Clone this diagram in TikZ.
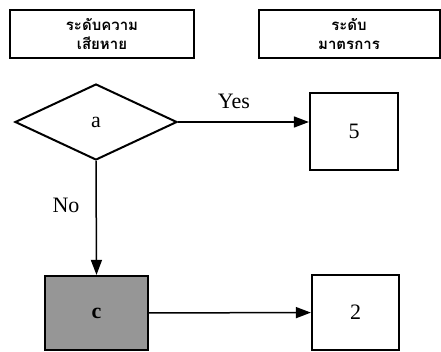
\documentclass[tikz,border=0pt]{standalone}
\usepackage{fontspec}
\setmainfont{Liberation Serif}
\newfontfamily\thaifont[Script=Thai]{Loma}
\usetikzlibrary{arrows.meta,shapes.geometric}
\definecolor{box_grey}{RGB}{150, 150, 150}
\tikzstyle{hd}=[rectangle,draw=black,line width=2pt,inner sep=0pt,
  minimum width=184pt,minimum height=48pt,align=center,
  font=\thaifont\bfseries\fontsize{15}{19}\selectfont]
\tikzstyle{bx}=[rectangle,draw=black,line width=2.2pt,inner sep=0pt,
  font=\fontsize{22}{24}\selectfont]
\tikzstyle{dm}=[diamond,draw=black,line width=2pt,inner sep=0pt,
  minimum width=162pt,minimum height=76pt,font=\fontsize{22}{24}\selectfont]
\tikzstyle{lb}=[font=\fontsize{22}{24}\selectfont]
\tikzstyle{ar}=[line width=1.5pt,-{Triangle[length=15pt,width=11pt]}]

\begin{document}
\begin{tikzpicture}[x=1pt, y=-1pt]
            \useasboundingbox (0, 0) rectangle (441, 351);
            \node [style=hd] (0) at (102, 33.5) {ระดับความ\\เสียหาย};
            \node [style=hd, minimum width=181pt] (1) at (349, 33.5) {ระดับ\\มาตรการ};
            \node [style=dm] (2) at (96, 122) {a};
            \node [style=bx, minimum width=88pt, minimum height=77pt] (3) at (354, 131.5) {5};
            \node [style=bx, fill=box_grey, minimum width=103pt, minimum height=74pt] (4) at (96.5, 313) {\textbf{c}};
            \node [style=bx, minimum width=87pt, minimum height=75pt] (5) at (355.5, 312.5) {2};
            \node [style=lb] (6) at (234, 101) {Yes};
            \node [style=lb] (7) at (66, 205) {No};
            \draw [style=ar] (2.east) to (2.east -| 3.west);
            \draw [style=ar] (2.south) to (4.north);
            \draw [style=ar] (4) to (5);
    \end{tikzpicture}
\end{document}
